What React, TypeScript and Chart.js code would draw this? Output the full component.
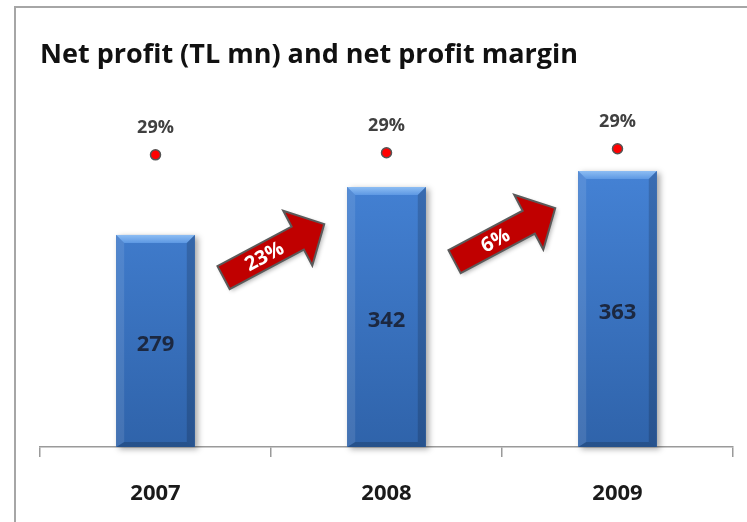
import React, { useEffect, useRef } from 'react';
import { Chart, registerables } from 'chart.js';

Chart.register(...registerables);

const years = ['2007', '2008', '2009'];
const netProfit = [279, 342, 363];
const margin = [28.8, 29.0, 29.4];
const marginLabels = ['29%', '29%', '29%'];
const growthLabels = ['23%', '6%'];
const titleText = 'Net profit (TL mn) and net profit margin';

const FONT = "'Open Sans', sans-serif";

const framePlugin = {
  id: 'frame',
  beforeDraw(chart: any) {
    const ctx = chart.ctx;
    ctx.save();
    ctx.fillStyle = '#ffffff';
    ctx.fillRect(0, 0, chart.width, chart.height);
    ctx.strokeStyle = '#a6a6a6';
    ctx.lineWidth = 2;
    ctx.beginPath();
    ctx.moveTo(15, chart.height);
    ctx.lineTo(15, 7);
    ctx.lineTo(chart.width, 7);
    ctx.stroke();
    ctx.restore();
  },
};

const barStylePlugin = {
  id: 'barStyle',
  beforeDatasetDraw(chart: any, args: any) {
    if (args.meta.type !== 'bar') return;
    const ctx = chart.ctx;
    ctx.save();
    args.meta.data.forEach((b: any) => {
      const l = b.x - b.width / 2;
      ctx.shadowColor = 'rgba(0,0,0,0.35)';
      ctx.shadowBlur = 6;
      ctx.shadowOffsetX = 3;
      ctx.shadowOffsetY = 2;
      ctx.fillStyle = '#3366aa';
      ctx.fillRect(l, b.y, b.width, b.base - b.y);
    });
    ctx.restore();
  },
  afterDatasetDraw(chart: any, args: any) {
    if (args.meta.type !== 'bar') return;
    const ctx = chart.ctx;
    ctx.save();
    args.meta.data.forEach((b: any) => {
      const l = b.x - b.width / 2;
      const r = b.x + b.width / 2;
      const t = b.y;
      const bot = b.base;
      const bv = 8;
      const g = ctx.createLinearGradient(0, t, 0, t + bv);
      g.addColorStop(0, '#8dbdf3');
      g.addColorStop(1, '#5d98e3');
      ctx.fillStyle = g;
      ctx.beginPath();
      ctx.moveTo(l, t);
      ctx.lineTo(r, t);
      ctx.lineTo(r - bv, t + bv);
      ctx.lineTo(l + bv, t + bv);
      ctx.closePath();
      ctx.fill();
      ctx.fillStyle = 'rgba(255,255,255,0.10)';
      ctx.beginPath();
      ctx.moveTo(l, t);
      ctx.lineTo(l + bv, t + bv);
      ctx.lineTo(l + bv, bot - 5);
      ctx.lineTo(l, bot);
      ctx.closePath();
      ctx.fill();
      ctx.fillStyle = 'rgba(0,0,0,0.16)';
      ctx.beginPath();
      ctx.moveTo(r, t);
      ctx.lineTo(r - bv, t + bv);
      ctx.lineTo(r - bv, bot - 5);
      ctx.lineTo(r, bot);
      ctx.closePath();
      ctx.fill();
      ctx.fillStyle = 'rgba(0,0,0,0.18)';
      ctx.beginPath();
      ctx.moveTo(l, bot);
      ctx.lineTo(l + bv, bot - 5);
      ctx.lineTo(r - bv, bot - 5);
      ctx.lineTo(r, bot);
      ctx.closePath();
      ctx.fill();
    });
    ctx.restore();
  },
};

const labelPlugin = {
  id: 'labels',
  afterDatasetsDraw(chart: any) {
    const ctx = chart.ctx;
    const barMeta = chart.getDatasetMeta(0);
    const dotMeta = chart.getDatasetMeta(1);
    ctx.save();
    ctx.textAlign = 'center';
    ctx.textBaseline = 'middle';

    ctx.font = `bold 22px ${FONT}`;
    ctx.fillStyle = '#1c2840';
    barMeta.data.forEach((b: any, i: number) => {
      ctx.fillText(String(netProfit[i]), b.x, (b.y + b.base) / 2 + 4);
    });

    ctx.font = `bold 18px ${FONT}`;
    ctx.fillStyle = '#404040';
    dotMeta.data.forEach((p: any, i: number) => {
      ctx.fillText(marginLabels[i], p.x, p.y - 27);
    });

    const ang = (28 * Math.PI) / 180;
    growthLabels.forEach((lab, i) => {
      const rb = barMeta.data[i + 1];
      if (!rb) return;
      const tipX = rb.x - rb.width / 2 - 23;
      const tipY = rb.y + 37;
      ctx.save();
      ctx.translate(tipX, tipY);
      ctx.rotate(-ang);
      const L = 114;
      const sh = 13;
      const hh = 31;
      const hl = 30;
      ctx.beginPath();
      ctx.moveTo(-L, -sh);
      ctx.lineTo(-hl, -sh);
      ctx.lineTo(-hl, -hh);
      ctx.lineTo(0, 0);
      ctx.lineTo(-hl, hh);
      ctx.lineTo(-hl, sh);
      ctx.lineTo(-L, sh);
      ctx.closePath();
      ctx.shadowColor = 'rgba(0,0,0,0.3)';
      ctx.shadowBlur = 4;
      ctx.shadowOffsetX = 2;
      ctx.shadowOffsetY = 2;
      ctx.fillStyle = '#c00000';
      ctx.fill();
      ctx.shadowColor = 'transparent';
      ctx.strokeStyle = '#5a5a5a';
      ctx.lineWidth = 2;
      ctx.lineJoin = 'miter';
      ctx.stroke();
      ctx.fillStyle = '#ffffff';
      ctx.font = `bold 20px ${FONT}`;
      ctx.fillText(lab, -68, 1);
      ctx.restore();
    });
    ctx.restore();
  },
};

export default function App() {
  const ref = useRef<HTMLCanvasElement | null>(null);

  useEffect(() => {
    if (!ref.current) return;
    const chart = new Chart(ref.current, {
      type: 'bar',
      data: {
        labels: years,
        datasets: [
          {
            type: 'bar',
            label: 'Net profit (TL mn)',
            data: netProfit,
            yAxisID: 'y',
            order: 2,
            barPercentage: 0.34,
            categoryPercentage: 1,
            backgroundColor: (c: any) => {
              const area = c.chart.chartArea;
              if (!area) return '#3a78c8';
              const g = c.chart.ctx.createLinearGradient(0, area.top, 0, area.bottom);
              g.addColorStop(0, '#4a8ae0');
              g.addColorStop(1, '#2f63aa');
              return g;
            },
            borderWidth: 0,
          } as any,
          {
            type: 'line',
            label: 'Net profit margin',
            data: margin,
            yAxisID: 'y1',
            order: 1,
            showLine: false,
            pointRadius: 5,
            pointBackgroundColor: '#ff0000',
            pointBorderColor: '#555555',
            pointBorderWidth: 1.5,
          } as any,
        ],
      },
      options: {
        animation: false,
        responsive: false,
        layout: { padding: { left: 40, right: 14, top: 39, bottom: 17 } },
        plugins: {
          legend: { display: false },
          tooltip: { enabled: false },
          title: {
            display: true,
            text: titleText,
            align: 'start',
            color: '#111111',
            font: { family: FONT, size: 27, weight: 'bold' },
            padding: { top: 0, bottom: 26 },
          },
        },
        scales: {
          x: {
            afterFit: (s: any) => {
              s.height = 58;
            },
            grid: {
              display: true,
              drawOnChartArea: false,
              drawTicks: true,
              tickLength: 10,
              color: '#9a9a9a',
              lineWidth: 1.5,
              offset: true,
            },
            border: { display: true, color: '#9a9a9a', width: 1.5 },
            ticks: {
              color: '#1a1a1a',
              font: { family: FONT, size: 22, weight: 'bold' },
              padding: 24,
            },
          },
          y: { display: false, min: 0, max: 460 },
          y1: { display: false, min: 0, max: 34.46 },
        },
      } as any,
      plugins: [framePlugin, barStylePlugin, labelPlugin],
    });
    return () => chart.destroy();
  }, []);

  return (
    <div style={{ position: 'absolute', left: 0, top: 0, width: 747, height: 522 }}>
      <canvas ref={ref} width={747} height={522} style={{ display: 'block' }} />
    </div>
  );
}
